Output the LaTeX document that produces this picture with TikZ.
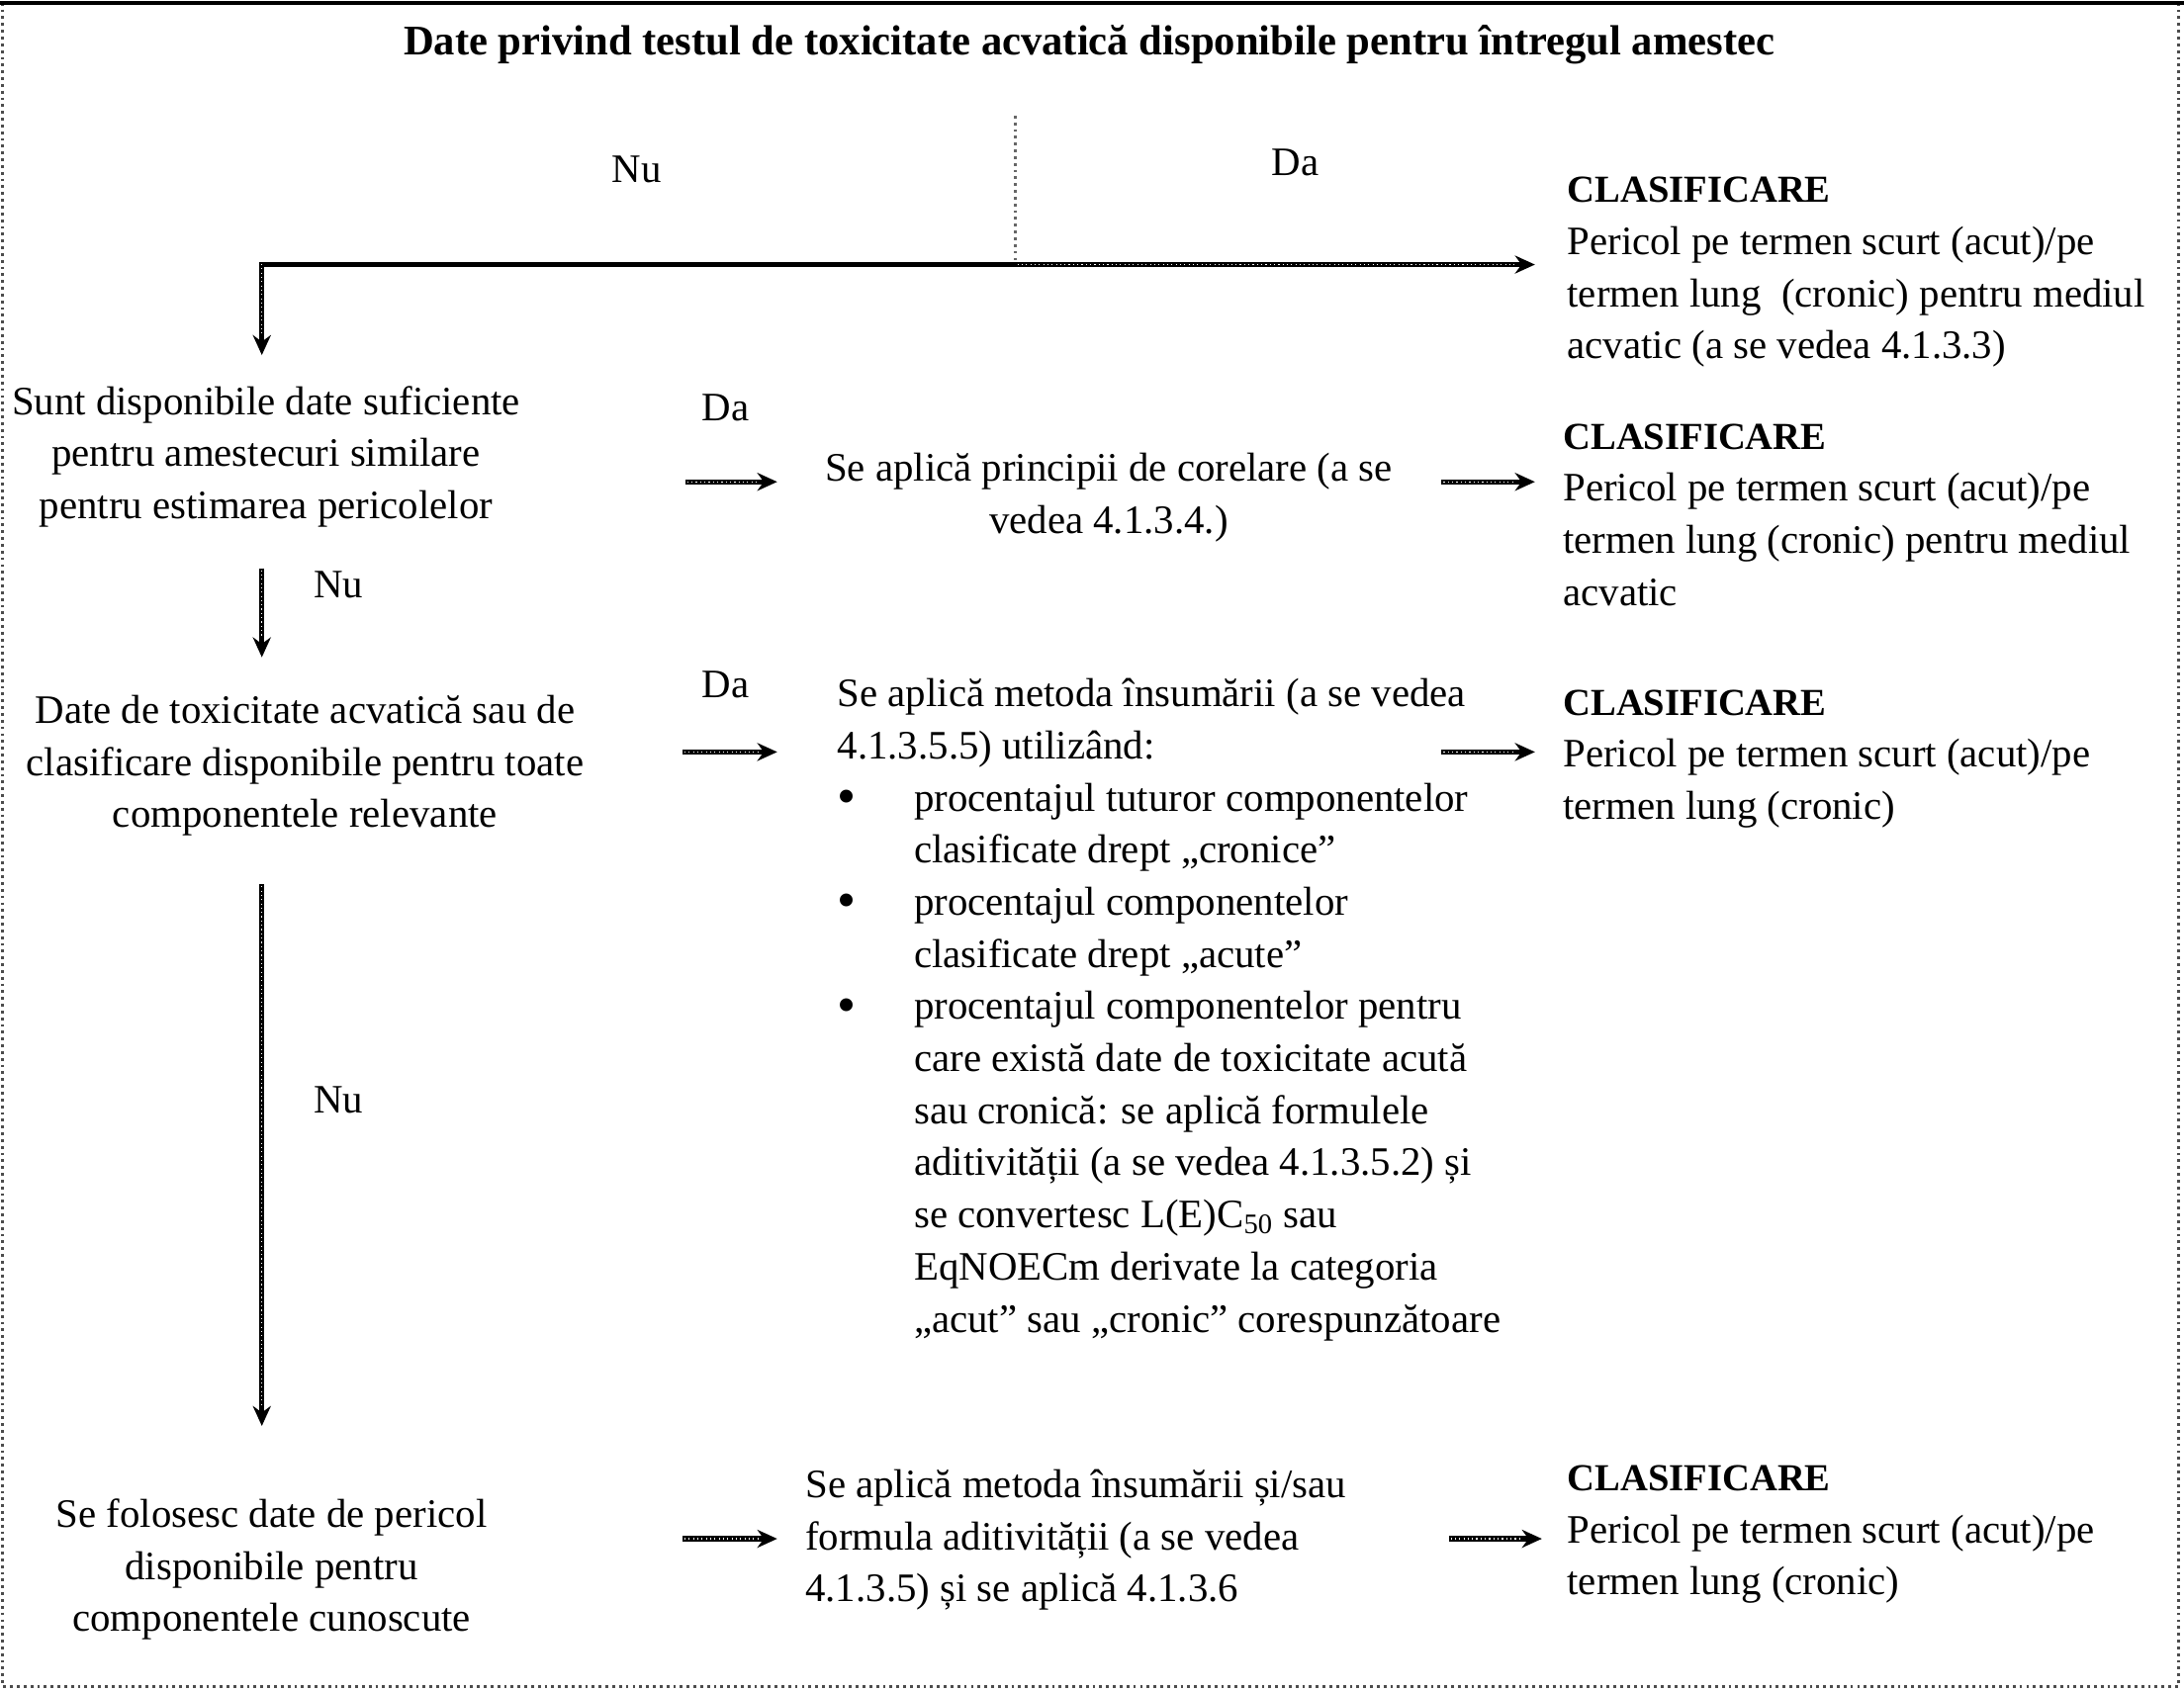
\documentclass[tikz,border=0pt]{standalone}
\usepackage{fontspec}
\setmainfont{Liberation Serif}
\usetikzlibrary{arrows.meta}
\newcommand\bulitem{\makebox[38.5pt][l]{\hspace*{0pt}\raisebox{-1.6pt}{\fontsize{27}{0}\selectfont•}}}
\newcommand\bulind{\hspace*{38.5pt}}
\newcommand\clhead{{\fontsize{19.2}{26.25}\selectfont\bfseries CLASIFICARE}}
\begin{document}
\begin{tikzpicture}[x=0.7pt,y=-0.7pt,
  txt/.style={inner sep=0pt, font=\fontsize{20.3}{26.2}\selectfont, align=left},
  ctxt/.style={inner sep=0pt, font=\fontsize{20.3}{26.2}\selectfont, align=center},
  conn/.style={draw=black, line width=2.6pt, -{Stealth[length=10pt,width=9pt]},
    postaction={draw=white, line width=0.55pt, dash pattern=on 0.55pt off 1.6pt, -, shorten >=10pt, shorten <=1pt}},
  elbow/.style={draw=black, line width=2.6pt},
  guide/.style={draw=black!60, line width=1.4pt, dotted}]
\useasboundingbox (0,0) rectangle (1568,1214);
% frame
\draw[black!70, line width=1.4pt, dotted] (2,2) rectangle (1564,1211);
\draw[black, line width=2.2pt] (0,2) -- (1568,2);

% title
\node[inner sep=0pt, font=\fontsize{21.2}{26.2}\selectfont\bfseries] (title) at (782,32)
  {Date privind testul de toxicitate acvatică disponibile pentru întregul amestec};

% top split
\coordinate (vtop) at (729,83);
\coordinate (vbot) at (729,190);
\coordinate (corner) at (188,190);
\coordinate (r0) at (1102,190);
\coordinate (d0) at (188,255);
\draw[guide] (vtop) -- (vbot);
\draw[elbow] (corner) -- (vbot);
\draw[conn] (vbot) -- (r0);
\draw[conn] ([yshift=1.3pt]corner) -- (d0);
\node[txt] (nu0) at (457,122) {Nu};
\node[txt] (da0) at (930,117) {Da};

\node[txt, anchor=north west] (c1) at (1125,127)
  {\clhead\\Pericol pe termen scurt (acut)/pe\\termen lung \ (cronic) pentru mediul\\acvatic (a se vedea 4.1.3.3)};

% row 1
\node[ctxt, anchor=north] (q1) at (191,277)
  {Sunt disponibile date suficiente\\pentru amestecuri similare\\pentru estimarea pericolelor};
\node[txt] (da1) at (521,293) {Da};
\coordinate (a1s) at (492,346);
\coordinate (a1e) at (558,346);
\draw[conn] (a1s) -- (a1e);
\node[ctxt, anchor=north] (p1) at (796,325)
  {Se aplică principii de corelare (a se\\vedea 4.1.3.4.)};
\coordinate (b1s) at (1035,346);
\coordinate (b1e) at (1102,346);
\draw[conn] (b1s) -- (b1e);
\node[txt, anchor=north west] (c2) at (1122,304)
  {\clhead\\Pericol pe termen scurt (acut)/pe\\termen lung (cronic) pentru mediul\\acvatic};

% down 1
\coordinate (d1s) at (188,408);
\coordinate (d1e) at (188,472);
\draw[conn] (d1s) -- (d1e);
\node[txt] (nu1) at (243,420) {Nu};

% row 2
\node[ctxt, anchor=north] (q2) at (219,499)
  {Date de toxicitate acvatică sau de\\clasificare disponibile pentru toate\\componentele relevante};
\node[txt] (da2) at (521,492) {Da};
\coordinate (a2s) at (490,540);
\coordinate (a2e) at (558,540);
\draw[conn] (a2s) -- (a2e);
\node[txt, anchor=north west] (p2) at (601,487)
  {Se aplică metoda însumării (a se vedea\\
   4.1.3.5.5) utilizând:\\
   \bulitem procentajul tuturor componentelor\\
   \bulind clasificate drept „cronice”\\
   \bulitem procentajul componentelor\\
   \bulind clasificate drept „acute”\\
   \bulitem procentajul componentelor pentru\\
   \bulind care există date de toxicitate acută\\
   \bulind sau cronică: se aplică formulele\\
   \bulind aditivității (a se vedea 4.1.3.5.2) și\\
   \bulind se convertesc L(E)C\textsubscript{50} sau\\
   \bulind EqNOECm derivate la categoria\\
   \bulind „acut” sau „cronic” corespunzătoare};
\coordinate (b2s) at (1035,540);
\coordinate (b2e) at (1102,540);
\draw[conn] (b2s) -- (b2e);
\node[txt, anchor=north west] (c3) at (1122,495)
  {\clhead\\Pericol pe termen scurt (acut)/pe\\termen lung (cronic)};

% down 2
\coordinate (d2s) at (188,635);
\coordinate (d2e) at (188,1024);
\draw[conn] (d2s) -- (d2e);
\node[txt] (nu2) at (243,790) {Nu};

% row 3
\node[ctxt, anchor=north] (q3) at (195,1076)
  {Se folosesc date de pericol\\disponibile pentru\\componentele cunoscute};
\coordinate (a3s) at (490,1105);
\coordinate (a3e) at (558,1105);
\draw[conn] (a3s) -- (a3e);
\node[txt, anchor=north west] (p3) at (578,1055)
  {Se aplică metoda însumării și/sau\\formula aditivității (a se vedea\\4.1.3.5) și se aplică 4.1.3.6};
\coordinate (b3s) at (1040,1105);
\coordinate (b3e) at (1107,1105);
\draw[conn] (b3s) -- (b3e);
\node[txt, anchor=north west] (c4) at (1125,1052)
  {\clhead\\Pericol pe termen scurt (acut)/pe\\termen lung (cronic)};
\end{tikzpicture}
\end{document}
